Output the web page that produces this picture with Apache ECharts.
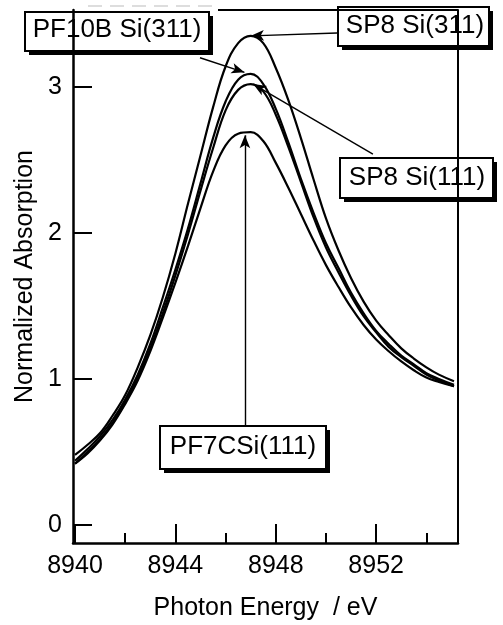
<!DOCTYPE html>
<html>
<head>
<meta charset="utf-8">
<script src="https://cdn.jsdelivr.net/npm/echarts@6/dist/echarts.min.js"></script>
<style>
html,body{margin:0;padding:0;background:#fff;}
#chart{width:503px;height:625px;}
</style>
</head>
<body>
<div id="chart"></div>
<script>
// Photon energy (eV) sample positions
const energy = [8940, 8940.5, 8941, 8941.5, 8942, 8942.5, 8943, 8943.5, 8944, 8944.5,
  8945, 8945.5, 8946, 8946.5, 8947, 8947.5, 8948, 8948.5, 8949, 8949.5,
  8950, 8950.5, 8951, 8951.5, 8952, 8952.5, 8953, 8953.5, 8954, 8954.5, 8955.1];

const sp8Si311 = [0.48, 0.55, 0.63, 0.75, 0.89, 1.08, 1.30, 1.56, 1.86, 2.20,
  2.53, 2.86, 3.14, 3.30, 3.35, 3.30, 3.13, 2.91, 2.65, 2.37,
  2.10, 1.88, 1.69, 1.53, 1.40, 1.30, 1.21, 1.14, 1.08, 1.03, 0.985];

const pf10bSi311 = [0.44, 0.52, 0.61, 0.72, 0.86, 1.03, 1.24, 1.49, 1.75, 2.03,
  2.34, 2.65, 2.90, 3.05, 3.09, 3.02, 2.85, 2.62, 2.37, 2.14,
  1.93, 1.76, 1.59, 1.45, 1.33, 1.24, 1.16, 1.10, 1.04, 1.00, 0.96];

const sp8Si111 = [0.42, 0.50, 0.59, 0.70, 0.84, 1.01, 1.21, 1.45, 1.71, 1.99,
  2.29, 2.58, 2.84, 2.98, 3.02, 2.97, 2.81, 2.59, 2.35, 2.11,
  1.90, 1.73, 1.57, 1.43, 1.32, 1.22, 1.15, 1.09, 1.03, 0.99, 0.95];

const pf7cSi111 = [0.42, 0.49, 0.58, 0.69, 0.83, 0.99, 1.19, 1.42, 1.66, 1.91,
  2.17, 2.42, 2.60, 2.68, 2.69, 2.63, 2.48, 2.31, 2.13, 1.95,
  1.78, 1.63, 1.49, 1.37, 1.27, 1.19, 1.12, 1.06, 1.01, 0.98, 0.95];

const xMajorTicks = [8940, 8944, 8948, 8952];
const xMinorTicks = [8942, 8946, 8950, 8954];
const yTicks = [0, 1, 2, 3];

// annotation pointer lines, in data units [from, to]
const pointers = [
  [[8950.44, 3.37], [8947.01, 3.35]],   // SP8 Si(311)
  [[8944.98, 3.20], [8946.75, 3.10]],   // PF10B Si(311)
  [[8951.87, 2.54], [8947.10, 3.02]],   // SP8 Si(111)
  [[8946.77, 0.68], [8946.77, 2.67]]    // PF7CSi(111)
];

const FONT = '"Liberation Sans", Arial, Helvetica, sans-serif';
const XMIN = 8939.92, XMAX = 8955.26, YMIN = -0.123, YMAX = 3.527;

function pairs(ys) { return energy.map((e, i) => [e, ys[i]]); }

function lineSeries(name, ys, extra) {
  return Object.assign({
    name: name, type: 'line', data: pairs(ys), smooth: 0.4,
    showSymbol: false, symbol: 'none', silent: true,
    lineStyle: { color: '#000', width: 2.2 }
  }, extra || {});
}

function box(x, y, w, h, text, tx, ty) {
  return {
    type: 'group', z: 100, children: [
      { type: 'rect', shape: { x: x + 4, y: y + 4, width: w, height: h }, style: { fill: '#000' } },
      { type: 'rect', shape: { x: x, y: y, width: w, height: h }, style: { fill: '#fff', stroke: '#000', lineWidth: 2 } },
      { type: 'text', style: { text: text, x: tx, y: ty, align: 'center', verticalAlign: 'middle',
        font: '26px ' + FONT, fill: '#000' } }
    ]
  };
}

const chart = echarts.init(document.getElementById('chart'), null, { renderer: 'canvas' });

const option = {
  backgroundColor: '#fff',
  animation: false,
  grid: { left: 73, right: 45, top: 10, bottom: 82, containLabel: false, outerBoundsMode: 'none' },
  xAxis: [{
    type: 'value', min: XMIN, max: XMAX, position: 'bottom',
    axisLine: { show: true, onZero: false, lineStyle: { color: '#000', width: 2.5 } },
    axisTick: { show: true, inside: true, length: 19, customValues: xMajorTicks, lineStyle: { color: '#000', width: 2 } },
    axisLabel: { show: true, customValues: xMajorTicks, formatter: v => String(v), color: '#000',
      fontSize: 25, fontFamily: FONT, margin: 11 },
    splitLine: { show: false },
    name: 'Photon Energy  / eV', nameLocation: 'middle', nameGap: 53,
    nameTextStyle: { color: '#000', fontSize: 25, fontFamily: FONT }
  }, {
    type: 'value', min: XMIN, max: XMAX, position: 'bottom', offset: 0,
    axisLine: { show: false, onZero: false },
    axisTick: { show: true, inside: true, length: 10, customValues: xMinorTicks, lineStyle: { color: '#000', width: 2 } },
    axisLabel: { show: false },
    splitLine: { show: false }
  }],
  yAxis: [{
    type: 'value', min: YMIN, max: YMAX, position: 'left',
    axisLine: { show: true, onZero: false, lineStyle: { color: '#000', width: 2.5 } },
    axisTick: { show: true, inside: true, length: 19, customValues: yTicks, lineStyle: { color: '#000', width: 2 } },
    axisLabel: { show: true, customValues: yTicks, color: '#000', fontSize: 25, fontFamily: FONT, margin: 11 },
    splitLine: { show: false },
    name: 'Normalized Absorption', nameLocation: 'middle', nameGap: 33,
    nameTextStyle: { color: '#000', fontSize: 25, fontFamily: FONT }
  }, {
    type: 'value', min: YMIN, max: YMAX, position: 'right',
    axisLine: { show: true, onZero: false, lineStyle: { color: '#000', width: 2 } },
    axisTick: { show: false }, axisLabel: { show: false }, splitLine: { show: false }
  }],
  series: [
    lineSeries('SP8 Si(311)', sp8Si311, {
      markLine: {
        silent: true, symbol: ['none', 'arrow'], symbolSize: [8, 13], animation: false,
        lineStyle: { color: '#000', width: 1.4, type: 'solid' },
        label: { show: false }, emphasis: { disabled: true },
        data: pointers.map(p => [{ coord: p[0] }, { coord: p[1] }])
      }
    }),
    lineSeries('PF10B Si(311)', pf10bSi311),
    lineSeries('SP8 Si(111)', sp8Si111),
    lineSeries('PF7CSi(111)', pf7cSi111)
  ],
  graphic: [
    { type: 'line', z: 50, shape: { x1: 218, y1: 10, x2: 458, y2: 10 }, style: { stroke: '#000', lineWidth: 2 } },
    { type: 'line', z: 50, shape: { x1: 88, y1: 6, x2: 216, y2: 6 }, style: { stroke: '#bbb', lineWidth: 1, lineDash: [14, 8] } },
    box(25, 12, 184, 39, 'PF10B Si(311)', 117, 30),
    box(338, 7, 151, 39, 'SP8 Si(311)', 415, 26),
    box(340, 158, 153, 40, 'SP8 Si(111)', 417, 178),
    box(160, 426, 166, 43, 'PF7CSi(111)', 243, 447)
  ]
};
chart.setOption(option);
</script>
</body>
</html>
